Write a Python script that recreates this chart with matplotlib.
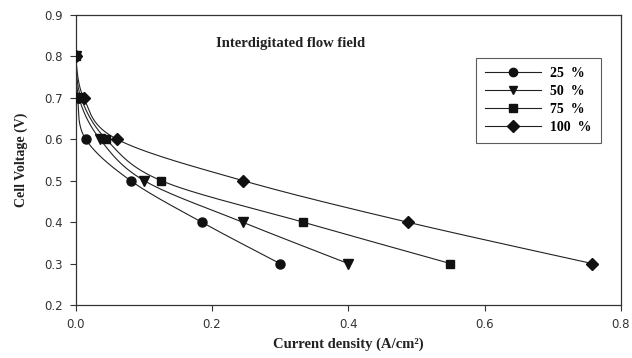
import numpy as np
import matplotlib
matplotlib.use("Agg")
import matplotlib.pyplot as plt
from matplotlib.lines import Line2D

voltage = [0.8, 0.7, 0.6, 0.5, 0.4, 0.3]
cur_25 = [0.0, 0.003, 0.015, 0.081, 0.185, 0.300]
cur_50 = [0.0, 0.005, 0.036, 0.101, 0.245, 0.400]
cur_75 = [0.0, 0.008, 0.045, 0.126, 0.334, 0.550]
cur_100 = [0.0, 0.012, 0.061, 0.246, 0.487, 0.758]
labels = ["25  %", "50  %", "75  %", "100  %"]
markers = ["o", "v", "s", "D"]
series = [cur_25, cur_50, cur_75, cur_100]


def smooth(x, y, n=30):
    # Catmull-Rom style smoothing similar to spreadsheet smoothed lines
    p = np.column_stack([x, y]).astype(float)
    p = np.vstack([p[0], p, p[-1]])
    out = []
    for i in range(1, len(p) - 2):
        p0, p1, p2, p3 = p[i - 1], p[i], p[i + 1], p[i + 2]
        t = np.linspace(0, 1, n)[:, None]
        c1 = p1 + (p2 - p0) / 6
        c2 = p2 - (p3 - p1) / 6
        seg = ((1 - t) ** 3) * p1 + 3 * ((1 - t) ** 2) * t * c1 + 3 * (1 - t) * t ** 2 * c2 + t ** 3 * p2
        out.append(seg)
    s = np.vstack(out)
    return s[:, 0], s[:, 1]


fig = plt.figure(figsize=(6.32, 3.58), dpi=100)
ax = fig.add_axes([0.1195, 0.148, 0.863, 0.81])

msizes = [6.5, 6.5, 6, 6.5]
for cur, m, ms in zip(series, markers, msizes):
    xs = np.array(cur) / 0.8
    ys = (np.array(voltage) - 0.2) / 0.7 * (290 / 545)
    sx, sy = smooth(xs, ys)
    ax.plot(sx * 0.8, sy / (290 / 545) * 0.7 + 0.2, color="#222222", lw=0.8, zorder=2)
    ax.plot(cur, voltage, linestyle="none", marker=m, color="#111111", ms=ms, zorder=3)

ax.set_xlim(0.0, 0.8)
ax.set_ylim(0.2, 0.9)
ax.set_xticks([0.0, 0.2, 0.4, 0.6, 0.8])
ax.set_yticks([0.2, 0.3, 0.4, 0.5, 0.6, 0.7, 0.8, 0.9])
ax.set_xticklabels(["0.0", "0.2", "0.4", "0.6", "0.8"])
ax.set_yticklabels(["0.2", "0.3", "0.4", "0.5", "0.6", "0.7", "0.8", "0.9"])
ax.tick_params(direction="out", length=4, width=0.8, colors="#333333",
               labelsize=8.5, labelcolor="#333333", pad=5)
for sp in ax.spines.values():
    sp.set_color("#333333")
    sp.set_linewidth(0.9)

ax.set_xlabel("Current density (A/cm²)", family="Liberation Serif",
              fontweight="bold", fontsize=10.5, labelpad=5, color="#222222")
ax.set_ylabel("Cell Voltage (V)", family="Liberation Serif", fontweight="bold",
              fontsize=10, labelpad=12, color="#222222")

ax.text(0.315, 0.832, "Interdigitated flow field", family="Liberation Serif",
        fontweight="bold", fontsize=10.5, ha="center", va="center", color="#222222")

handles = [Line2D([0], [0], color="#222222", lw=0.8, marker=m, ms=ms,
                  markerfacecolor="#111111", markeredgecolor="#111111")
           for m, ms in zip(markers, [6, 6, 5.5, 6])]
leg = ax.legend(handles, labels, loc="upper left", bbox_to_anchor=(0.7345, 0.852),
                borderaxespad=0.0,
                frameon=True, fancybox=False, handlelength=4.0,
                prop={"family": "Liberation Serif", "weight": "bold", "size": 10},
                borderpad=0.65, labelspacing=0.35, handletextpad=0.7)
leg.get_frame().set_edgecolor("#333333")
leg.get_frame().set_linewidth(0.8)

fig.savefig("out.png", dpi=100)
